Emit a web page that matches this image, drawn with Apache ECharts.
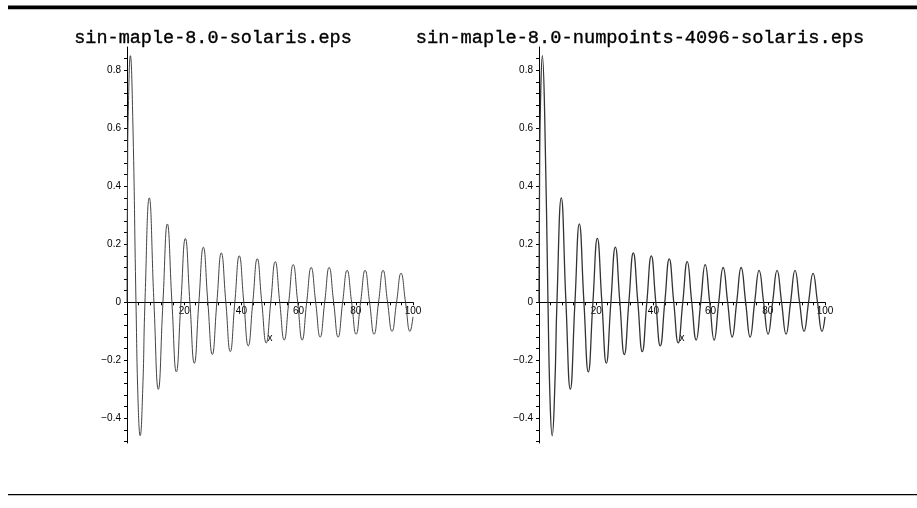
<!DOCTYPE html>
<html><head><meta charset="utf-8">
<script src="https://cdn.jsdelivr.net/npm/echarts@6/dist/echarts.min.js"></script>
<style>html,body{margin:0;padding:0;background:#fff}#c{width:917px;height:508px}</style>
</head><body><div id="c"></div>
<script>
// Titles
const titles = ["sin-maple-8.0-solaris.eps", "sin-maple-8.0-numpoints-4096-solaris.eps"];
// Curve points (x, y)
const curveX = [0, 0.2, 0.5, 1.17, 2.0, 3.14, 3.9, 4.60, 5.5, 6.28, 7.79, 9.42, 10.95, 12.57, 14.10, 15.71,
  17.25, 18.85, 20.40, 21.99, 23.54, 25.13, 26.69, 28.27, 29.83, 31.42, 32.97, 34.56, 36.11, 37.70,
  39.26, 40.84, 42.40, 43.98, 45.54, 47.12, 48.68, 50.27, 51.83, 53.41, 54.97, 56.55, 58.11, 59.69,
  61.25, 62.83, 64.39, 65.97, 67.54, 69.12, 70.68, 72.26, 73.82, 75.40, 76.96, 78.54, 80.10, 81.68,
  83.25, 84.82, 86.39, 87.96, 89.53, 91.11, 92.67, 94.25, 95.82, 97.39, 98.96, 100];
const curveY = [0, 0.44, 0.68, 0.85, 0.64, 0, -0.35, -0.46, -0.30, 0, 0.36, 0, -0.30, 0, 0.27, 0,
  -0.24, 0, 0.22, 0, -0.21, 0, 0.19, 0, -0.18, 0, 0.17, 0, -0.17, 0,
  0.16, 0, -0.15, 0, 0.15, 0, -0.14, 0, 0.14, 0, -0.13, 0, 0.13, 0,
  -0.13, 0, 0.12, 0, -0.12, 0, 0.12, 0, -0.12, 0, 0.11, 0, -0.11, 0,
  0.11, 0, -0.11, 0, 0.11, 0, -0.10, 0, 0.10, 0, -0.10, -0.05];
// Axis ticks
const xTickLabels = [20, 40, 60, 80, 100];
const xMinorTicks = [4, 8, 12, 16, 20, 24, 28, 32, 36, 40, 44, 48, 52, 56, 60, 64, 68, 72, 76, 80, 84, 88, 92, 96, 100];
const yTickLabels = [-0.4, -0.2, 0, 0.2, 0.4, 0.6, 0.8];
const yMinorTicks = [-0.48, -0.44, -0.4, -0.36, -0.32, -0.28, -0.24, -0.2, -0.16, -0.12, -0.08, -0.04, 0,
  0.04, 0.08, 0.12, 0.16, 0.2, 0.24, 0.28, 0.32, 0.36, 0.4, 0.44, 0.48, 0.52, 0.56, 0.6, 0.64, 0.68, 0.72, 0.76, 0.8, 0.84];

const Y_MIN = -0.485, Y_MAX = 0.88, GRID_TOP = 47, GRID_BOTTOM = 65, H = 508;
const plotH = H - GRID_TOP - GRID_BOTTOM;
const zeroOffset = -plotH * (0 - Y_MIN) / (Y_MAX - Y_MIN); // move x axis up to y = 0

const pts = curveX.map((x, i) => [x, curveY[i]]);
const lab = { fontFamily: 'Liberation Sans, Arial, sans-serif', fontSize: 10, color: '#000' };
function xAx(i) {
  return { type: 'value', gridIndex: i, min: 0, max: 100, position: 'bottom', offset: zeroOffset,
    axisLine: { onZero: false, lineStyle: { color: '#000', width: 1 } },
    axisTick: { show: true, inside: false, length: 3, customValues: xMinorTicks, lineStyle: { color: '#000' } },
    axisLabel: Object.assign({ customValues: xTickLabels, margin: 4 }, lab),
    splitLine: { show: false },
    name: 'x', nameLocation: 'middle', nameGap: 31, nameTextStyle: lab };
}
function yAx(i) {
  return { type: 'value', gridIndex: i, min: Y_MIN, max: Y_MAX,
    axisLine: { show: true, onZero: false, lineStyle: { color: '#000', width: 1 } },
    axisTick: { show: true, length: 3, customValues: yMinorTicks, lineStyle: { color: '#000' } },
    axisLabel: Object.assign({ customValues: yTickLabels, margin: 6,
      formatter: v => (Math.abs(v) < 1e-9 ? '0' : (v < 0 ? '\u2212' + (-v).toFixed(1) : v.toFixed(1))) }, lab),
    splitLine: { show: false } };
}
const tstyle = (fs) => ({ fontFamily: 'Liberation Mono, monospace', fontSize: fs, fontWeight: 'normal', color: '#000', textBorderColor: '#000', textBorderWidth: 0.35 });
const chart = echarts.init(document.getElementById('c'), null, { renderer: 'canvas' });
chart.setOption({
  animation: false,
  backgroundColor: '#fff',
  title: [
    { text: titles[0], left: 208, top: 24, textAlign: 'center', textStyle: tstyle(18.5) },
    { text: titles[1], left: 635, top: 24, textAlign: 'center', textStyle: tstyle(18.7) }
  ],
  grid: [
    { left: 127, right: 504, top: GRID_TOP, bottom: GRID_BOTTOM },
    { left: 539, right: 92, top: GRID_TOP, bottom: GRID_BOTTOM }
  ],
  xAxis: [xAx(0), xAx(1)],
  yAxis: [yAx(0), yAx(1)],
  series: [
    { type: 'line', xAxisIndex: 0, yAxisIndex: 0, data: pts, smooth: 0.5, showSymbol: false, lineStyle: { color: '#444', width: 1 } },
    { type: 'line', xAxisIndex: 1, yAxisIndex: 1, data: pts, smooth: 0.5, showSymbol: false, lineStyle: { color: '#333', width: 1.3 } }
  ],
  graphic: [
    { type: 'rect', shape: { x: 8, y: 5.5, width: 909, height: 3.8 }, style: { fill: '#000' } },
    { type: 'rect', shape: { x: 8, y: 494, width: 909, height: 1.2 }, style: { fill: '#000' } }
  ]
});
</script></body></html>
